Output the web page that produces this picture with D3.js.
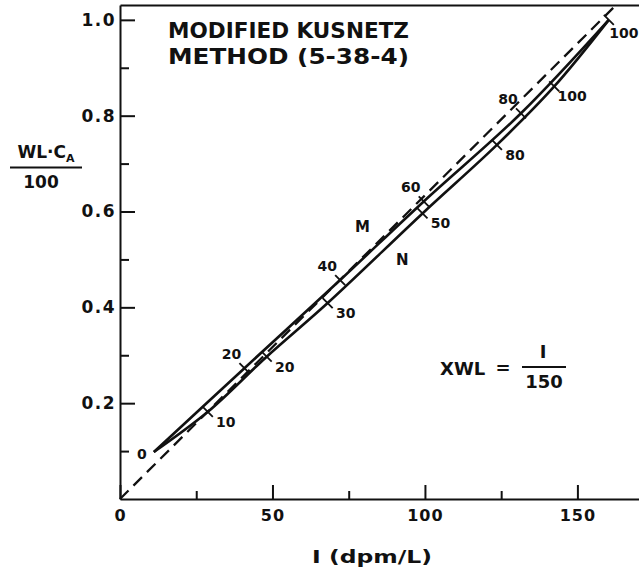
<!DOCTYPE html>
<html>
<head>
<meta charset="utf-8">
<script src="https://cdn.jsdelivr.net/npm/d3@7"></script>
<style>
  body { margin: 0; background: #fff; }
  svg text { font-family: "DejaVu Sans", sans-serif; font-weight: bold; fill: #111; }
</style>
</head>
<body>
<div id="chart"></div>
<script>
// valores (I en dpm/L, WL*CA/100)
const xMajor = [0, 50, 100, 150];
const xMinor = [25, 75, 125];
const yMajor = [0.2, 0.4, 0.6, 0.8, 1.0];
const yMinor = [0.1, 0.3, 0.5, 0.7, 0.9];

// curva M (arriba)
const mI = [11.1, 40.8, 72.2, 99.6, 131.5, 160.3];
const mWL = [0.098, 0.273, 0.457, 0.621, 0.805, 1.0];
const mLabels = ["0", "20", "40", "60", "80", "100"];

// curva N (abajo)
const nI = [11.1, 28.8, 48.1, 68.1, 99.2, 123.6, 142.4, 160.3];
const nWL = [0.098, 0.182, 0.297, 0.409, 0.596, 0.739, 0.861, 1.0];
const nLabels = ["", "10", "20", "30", "50", "80", "100", ""];

// linea de referencia XWL = I/150 (tal como esta trazada)
const refI = [0, 163];
const refWL = [0, 1.033];

const width = 639, height = 567;

const svg = d3.select("#chart").append("svg")
  .attr("width", width)
  .attr("height", height);

const x = d3.scaleLinear().domain([0, 170.2]).range([120, 639]);
const y = d3.scaleLinear().domain([0, 1.031]).range([499, 5]);

// ejes
const gx = svg.append("g").attr("transform", "translate(0,499)")
  .call(d3.axisBottom(x).tickValues(xMajor).tickSize(-14).tickSizeOuter(0).tickPadding(11).tickFormat(d3.format("d")));
gx.append("g").call(d3.axisBottom(x).tickValues(xMinor).tickSize(-8).tickSizeOuter(0).tickFormat(""))
  .select(".domain").remove();

const gy = svg.append("g").attr("transform", "translate(120,0)")
  .call(d3.axisLeft(y).tickValues(yMajor).tickSize(-15).tickSizeOuter(0).tickPadding(4).tickFormat(d3.format(".1f")));
gy.append("g").call(d3.axisLeft(y).tickValues(yMinor).tickSize(-9).tickSizeOuter(0).tickFormat(""))
  .select(".domain").remove();

svg.append("g").attr("transform", "translate(0,5)")
  .call(d3.axisTop(x).tickValues([]).tickSizeOuter(0));

svg.selectAll(".domain").attr("stroke", "#111").attr("stroke-width", 2);
svg.selectAll(".tick line").attr("stroke", "#111").attr("stroke-width", 2);
gx.selectAll(".tick text").attr("font-size", 16).attr("letter-spacing", 1).attr("fill", "#111");
gy.selectAll(".tick text").attr("font-size", 17).attr("letter-spacing", 1.5).attr("fill", "#111");

const line = d3.line().x(d => x(d[0])).y(d => y(d[1]));
const curve = d3.line().x(d => x(d[0])).y(d => y(d[1])).curve(d3.curveCatmullRom);

// linea discontinua
svg.append("path")
  .datum(refI.map((v, i) => [v, refWL[i]]))
  .attr("d", line)
  .attr("fill", "none")
  .attr("stroke", "#111")
  .attr("stroke-width", 2.3)
  .attr("stroke-dasharray", "12,7");

const mPts = mI.map((v, i) => [v, mWL[i], mLabels[i]]);
const nPts = nI.map((v, i) => [v, nWL[i], nLabels[i]]);

[mPts, nPts].forEach(pts => {
  svg.append("path")
    .datum(pts)
    .attr("d", curve)
    .attr("fill", "none")
    .attr("stroke", "#111")
    .attr("stroke-width", 2.6);
});

// marcas sobre las curvas
const marks = mPts.slice(1).concat(nPts.filter(d => d[2] !== ""));
svg.append("g").selectAll("line")
  .data(marks)
  .enter()
  .append("line")
  .attr("x1", d => x(d[0]) - 5)
  .attr("y1", d => y(d[1]) - 5)
  .attr("x2", d => x(d[0]) + 5)
  .attr("y2", d => y(d[1]) + 5)
  .attr("stroke", "#111")
  .attr("stroke-width", 1.8);

// etiquetas de M (arriba-izquierda) y N (abajo-derecha)
svg.append("g").selectAll("text")
  .data(mPts)
  .enter()
  .append("text")
  .attr("x", (d, i) => i === 0 ? x(d[0]) - 12 : i === mPts.length - 1 ? x(d[0]) + 15 : x(d[0]) - 13)
  .attr("y", (d, i) => i === 0 ? y(d[1]) + 2 : i === mPts.length - 1 ? y(d[1]) + 13 : y(d[1]) - 14)
  .attr("text-anchor", "middle")
  .attr("dominant-baseline", "central")
  .attr("font-size", 14)
  .text(d => d[2]);

svg.append("g").selectAll("text")
  .data(nPts.filter(d => d[2] !== ""))
  .enter()
  .append("text")
  .attr("x", d => x(d[0]) + 18)
  .attr("y", d => y(d[1]) + 10)
  .attr("text-anchor", "middle")
  .attr("dominant-baseline", "central")
  .attr("font-size", 14)
  .text(d => d[2]);

svg.append("text").attr("x", x(79.5)).attr("y", y(0.567)).attr("text-anchor", "middle")
  .attr("dominant-baseline", "central").attr("font-size", 15).text("M");
svg.append("text").attr("x", x(92.6)).attr("y", y(0.498)).attr("text-anchor", "middle")
  .attr("dominant-baseline", "central").attr("font-size", 15).text("N");

// titulo
svg.append("text").attr("x", 168).attr("y", 37.5).attr("font-size", 22)
  .attr("textLength", 241).attr("lengthAdjust", "spacingAndGlyphs").text("MODIFIED KUSNETZ");
svg.append("text").attr("x", 168).attr("y", 63.5).attr("font-size", 22)
  .attr("textLength", 241).attr("lengthAdjust", "spacingAndGlyphs").text("METHOD (5-38-4)");

// etiqueta eje y
const yl = svg.append("text").attr("x", 46).attr("y", 158).attr("font-size", 17).attr("text-anchor", "middle");
yl.append("tspan").text("WL·C");
yl.append("tspan").attr("font-size", 11).attr("dy", 4).text("A");
svg.append("line").attr("x1", 10).attr("x2", 82).attr("y1", 167.5).attr("y2", 167.5)
  .attr("stroke", "#111").attr("stroke-width", 2);
svg.append("text").attr("x", 41).attr("y", 188).attr("font-size", 17).attr("text-anchor", "middle").text("100");

// etiqueta eje x
svg.append("text").attr("x", 312).attr("y", 563).attr("font-size", 17)
  .attr("textLength", 120).attr("lengthAdjust", "spacingAndGlyphs").text("I (dpm/L)");

// formula
svg.append("text").attr("x", 440).attr("y", 375).attr("font-size", 18).text("XWL");
svg.append("text").attr("x", 503).attr("y", 374).attr("font-size", 18).attr("text-anchor", "middle").text("=");
svg.append("line").attr("x1", 522).attr("x2", 566).attr("y1", 367).attr("y2", 367)
  .attr("stroke", "#111").attr("stroke-width", 2);
svg.append("text").attr("x", 543).attr("y", 358).attr("font-size", 18).attr("text-anchor", "middle").text("I");
svg.append("text").attr("x", 544).attr("y", 388).attr("font-size", 18).attr("text-anchor", "middle").text("150");
</script>
</body>
</html>
